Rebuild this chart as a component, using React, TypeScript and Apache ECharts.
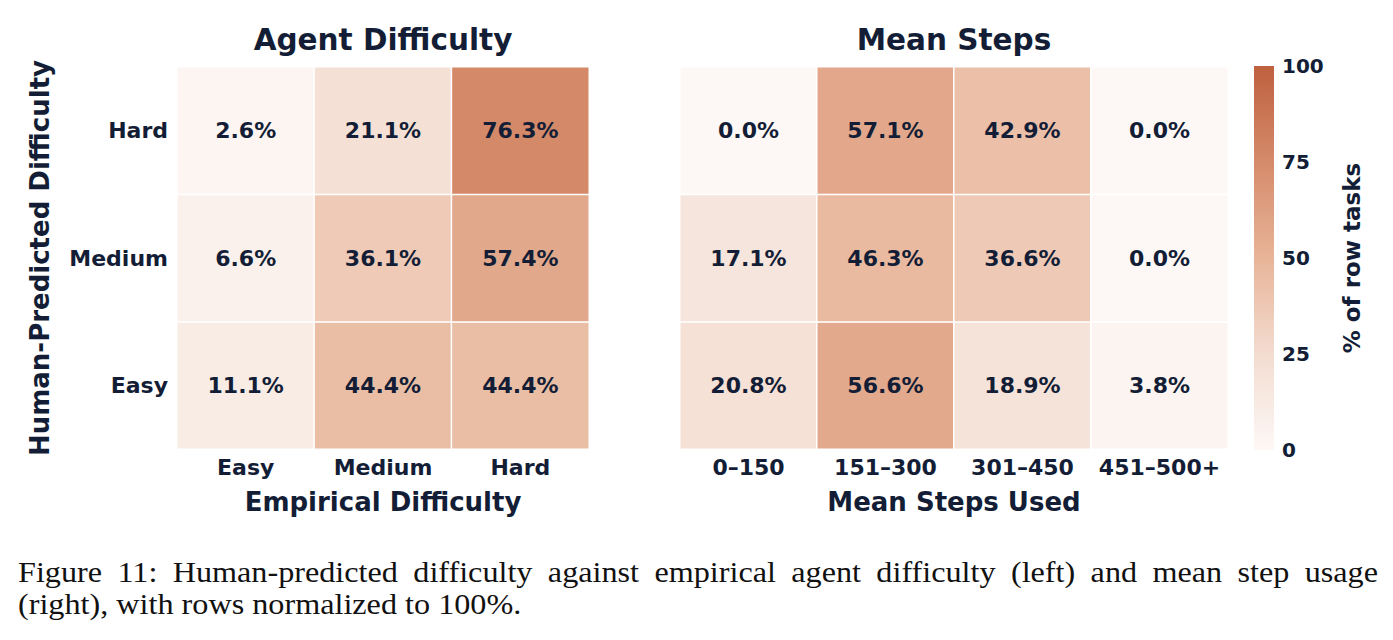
import React, { useEffect, useRef } from 'react';
import * as echarts from 'echarts';

// Column categories for the two panels
const difficultyCols = ['Easy', 'Medium', 'Hard'];
const stepCols = ['0–150', '151–300', '301–450', '451–500+'];
// Human-predicted rows, listed bottom to top
const humanRows = ['Easy', 'Medium', 'Hard'];

// Row-normalised percentages: empirical agent difficulty
const agentHard = [2.6, 21.1, 76.3];
const agentMedium = [6.6, 36.1, 57.4];
const agentEasy = [11.1, 44.4, 44.4];

// Row-normalised percentages: mean steps used
const stepsHard = [0.0, 57.1, 42.9, 0.0];
const stepsMedium = [17.1, 46.3, 36.6, 0.0];
const stepsEasy = [20.8, 56.6, 18.9, 3.8];

const colorbarTicks = [0, 25, 50, 75, 100];
const rampColors = ['#fdf8f6', '#f3dcd0', '#e8b498', '#d58b6b', '#be603e'];

const panelTitles = ['Agent Difficulty', 'Mean Steps'];
const captionLine1 =
  'Figure 11: Human-predicted difficulty against empirical agent difficulty (left) and mean step usage';
const captionLine2 = '(right), with rows normalized to 100%.';

const NAVY = '#131e36';
const SANS = 'DejaVu Sans';
const SERIF = 'Liberation Serif';
const CAPTION_STRETCH = 1.11;

const toCells = (rows: number[][]) =>
  rows.flatMap((vals, y) => vals.map((v, x) => [x, y, v]));

// Lay out one caption line word by word; optionally stretch it to fill [x0, x1]
function captionWords(text: string, fontSize: number, x0: number, x1: number, y: number, justify: boolean) {
  const font = `${fontSize}px "${SERIF}"`;
  const ctx = document.createElement('canvas').getContext('2d')!;
  ctx.font = font;
  const words = text.split(' ');
  const widths = words.map((w) => ctx.measureText(w).width * CAPTION_STRETCH);
  const total = widths.reduce((a, b) => a + b, 0);
  const gap = justify
    ? (x1 - x0 - total) / (words.length - 1)
    : ctx.measureText(' ').width * CAPTION_STRETCH;
  let x = x0;
  return words.map((w, i) => {
    const el = {
      type: 'text',
      x,
      y,
      scaleX: CAPTION_STRETCH,
      silent: true,
      style: { text: w, font, fill: '#111', align: 'left', verticalAlign: 'middle' },
    };
    x += widths[i] + gap;
    return el;
  });
}

export default function App() {
  const ref = useRef<HTMLDivElement>(null);

  useEffect(() => {
    const chart = echarts.init(ref.current!, undefined, { renderer: 'svg' });

    const tickLabel = { color: NAVY, fontFamily: SANS, fontWeight: 'bold' as const, fontSize: 22 };
    const axisName = { color: NAVY, fontFamily: SANS, fontWeight: 'bold' as const, fontSize: 26 };
    const hidden = { show: false };

    const cellLabel = {
      show: true,
      formatter: (p: any) => `${Number(p.value[2]).toFixed(1)}%`,
      color: NAVY,
      fontFamily: SANS,
      fontWeight: 'bold' as const,
      fontSize: 22,
    };
    const cellStyle = { borderColor: '#ffffff', borderWidth: 1.5 };

    const titleEls = panelTitles.map((t, i) => ({
      type: 'text',
      x: i === 0 ? 383 : 954,
      y: 40,
      silent: true,
      style: {
        text: t,
        font: `bold 29.5px "${SANS}"`,
        fill: NAVY,
        align: 'center',
        verticalAlign: 'middle',
      },
    }));

    const option = {
      animation: false,
      backgroundColor: '#ffffff',
      grid: [
        { left: 177, top: 67, width: 412, height: 382 },
        { left: 680, top: 67, width: 548, height: 382 },
        { left: 1254, top: 66, width: 20, height: 384 },
      ],
      xAxis: [
        {
          type: 'category',
          gridIndex: 0,
          data: difficultyCols,
          axisLine: hidden,
          axisTick: hidden,
          splitLine: hidden,
          axisLabel: { ...tickLabel, margin: 7, interval: 0 },
          name: 'Empirical Difficulty',
          nameLocation: 'middle',
          nameGap: 40,
          nameTextStyle: axisName,
        },
        {
          type: 'category',
          gridIndex: 1,
          data: stepCols,
          axisLine: hidden,
          axisTick: hidden,
          splitLine: hidden,
          axisLabel: { ...tickLabel, margin: 7, interval: 0 },
          name: 'Mean Steps Used',
          nameLocation: 'middle',
          nameGap: 40,
          nameTextStyle: axisName,
        },
        { type: 'category', gridIndex: 2, data: [''], show: false },
      ],
      yAxis: [
        {
          type: 'category',
          gridIndex: 0,
          data: humanRows,
          axisLine: hidden,
          axisTick: hidden,
          splitLine: hidden,
          axisLabel: { ...tickLabel, margin: 9, interval: 0 },
          name: 'Human-Predicted Difficulty',
          nameLocation: 'middle',
          nameRotate: 90,
          nameGap: 124,
          nameTextStyle: axisName,
        },
        {
          type: 'category',
          gridIndex: 1,
          data: humanRows,
          axisLine: hidden,
          axisTick: hidden,
          splitLine: hidden,
          axisLabel: hidden,
        },
        {
          type: 'value',
          gridIndex: 2,
          min: colorbarTicks[0],
          max: colorbarTicks[colorbarTicks.length - 1],
          interval: colorbarTicks[1] - colorbarTicks[0],
          position: 'right',
          axisLine: hidden,
          axisTick: hidden,
          splitLine: hidden,
          axisLabel: { ...tickLabel, fontSize: 20, margin: 8 },
          name: '% of row tasks',
          nameLocation: 'middle',
          nameRotate: 90,
          nameGap: 66,
          nameTextStyle: { ...axisName, fontSize: 23 },
        },
      ],
      visualMap: {
        type: 'continuous',
        show: false,
        min: 0,
        max: 100,
        seriesIndex: [0, 1],
        inRange: { color: rampColors },
      },
      series: [
        {
          type: 'heatmap',
          xAxisIndex: 0,
          yAxisIndex: 0,
          data: toCells([agentEasy, agentMedium, agentHard]),
          label: cellLabel,
          itemStyle: cellStyle,
          emphasis: { disabled: true },
        },
        {
          type: 'heatmap',
          xAxisIndex: 1,
          yAxisIndex: 1,
          data: toCells([stepsEasy, stepsMedium, stepsHard]),
          label: cellLabel,
          itemStyle: cellStyle,
          emphasis: { disabled: true },
        },
        {
          // colour bar for the shared scale
          type: 'bar',
          xAxisIndex: 2,
          yAxisIndex: 2,
          data: [colorbarTicks[colorbarTicks.length - 1]],
          barWidth: '100%',
          silent: true,
          itemStyle: {
            color: new echarts.graphic.LinearGradient(
              0,
              1,
              0,
              0,
              rampColors.map((c, i) => ({ offset: i / (rampColors.length - 1), color: c }))
            ),
          },
        },
      ],
      graphic: [
        ...titleEls,
        ...captionWords(captionLine1, 29, 18, 1378, 573, true),
        ...captionWords(captionLine2, 29, 18, 1378, 605, false),
      ],
    };

    chart.setOption(option as any);
    return () => chart.dispose();
  }, []);

  return (
    <div
      ref={ref}
      style={{ position: 'fixed', left: 0, top: 0, width: 1393, height: 640, background: '#fff' }}
    />
  );
}
